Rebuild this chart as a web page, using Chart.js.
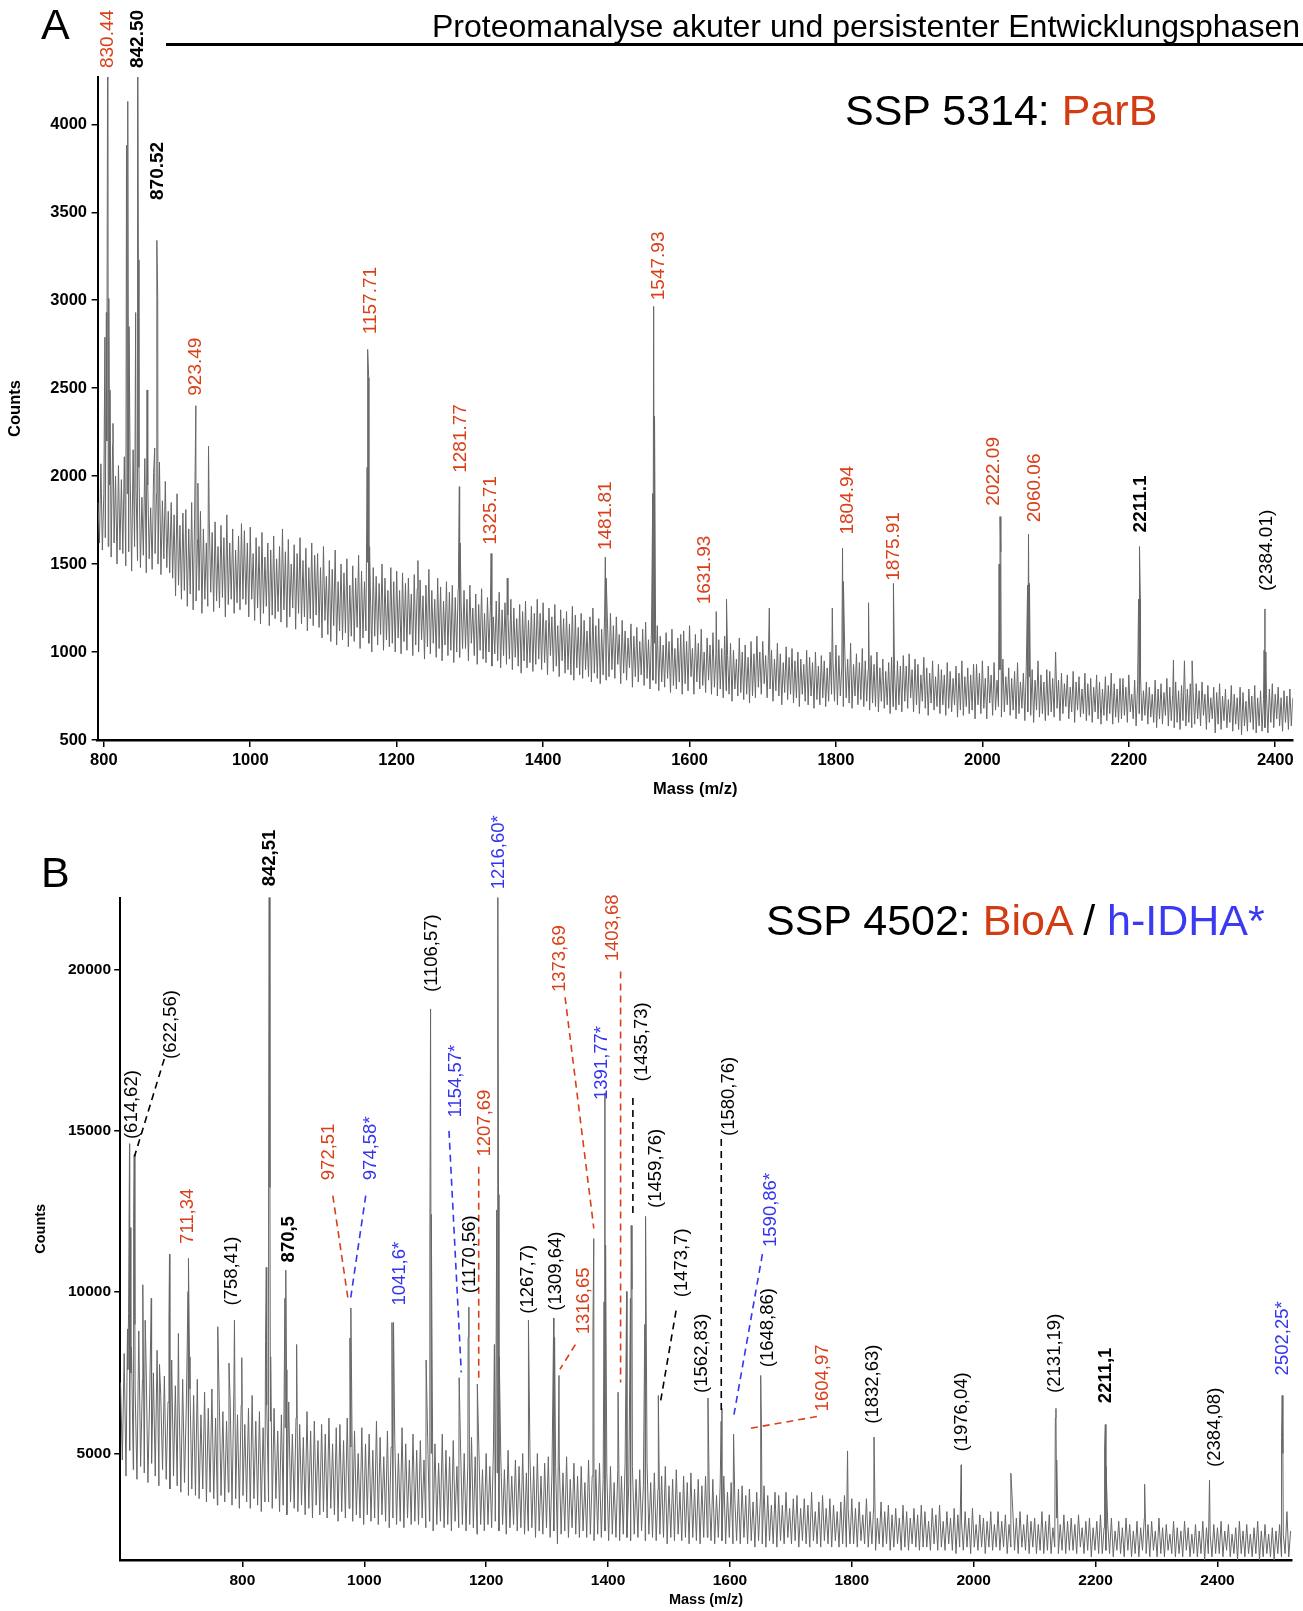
<!DOCTYPE html>
<html><head><meta charset="utf-8">
<script src="https://cdn.jsdelivr.net/npm/chart.js@4.4.1/dist/chart.umd.min.js"></script>
<style>
html,body{margin:0;padding:0;background:#fff;}
body{width:1303px;height:1611px;position:relative;overflow:hidden;font-family:"Liberation Sans",Arial,sans-serif;color:#000;}
.t{position:absolute;white-space:nowrap;line-height:1;}
canvas{position:absolute;left:0;}
</style></head><body>
<canvas id="cA" width="1303" height="805" style="top:0;width:1303px;height:805px"></canvas>
<canvas id="cB" width="1303" height="806" style="top:805px;width:1303px;height:806px"></canvas>
<div class="t" style="left:41px;top:2.6px;font-size:43px">A</div>
<div class="t" style="left:41px;top:850.6px;font-size:43px">B</div>
<div class="t" style="right:3px;top:9.9px;font-size:32px">Proteomanalyse akuter und persistenter Entwicklungsphasen</div>
<div style="position:absolute;left:166px;top:43px;width:1137px;height:3px;background:#000"></div>
<div class="t" style="left:845px;top:88.6px;font-size:43px">SSP 5314: <span style="color:#d33c12">ParB</span></div>
<div class="t" style="left:766px;top:898.6px;font-size:43px">SSP 4502: <span style="color:#d33c12">BioA</span> / <span style="color:#3a3af2">h-IDHA*</span></div>
<script>
// ---------- Panel A (SSP 5314) ----------
const massA_start = 792, massA_step = 2;
const noiseA = [
1850,1620,2070,1580,1900,1650,2200,1600,1950,1540,2180,1620,2000,1500,2060,1580,1980,1560,2110,1490,1900,1570,2000,1460,2150,1600,1930,1520,2050,1480,1880,1550,2100,1450,1950,1530,1820,1470,2020,1560,1900,1500,2080,1440,1860,1530,1970,1480,1800,1450,
1850,1420,1780,1320,1900,1380,1720,1300,1790,1350,1810,1260,1700,1330,1850,1240,1760,1290,1640,1350,1800,1220,1700,1300,1620,1260,1760,1340,1680,1230,1740,1290,1600,1250,1720,1310,1650,1200,1780,1270,1620,1300,1700,1220,1580,1280,1660,1240,1730,1300,
1690,1270,1620,1200,1710,1300,1560,1180,1650,1250,1600,1160,1680,1220,1540,1260,1620,1150,1580,1210,1660,1190,1530,1230,1600,1170,1700,1240,1570,1140,1640,1200,1500,1250,1610,1130,1560,1220,1650,1160,1520,1200,1590,1120,1480,1190,1620,1150,1550,1210,
1560,1140,1480,1080,1600,1180,1430,1100,1520,1060,1470,1150,1580,1040,1400,1120,1500,1070,1450,1110,1530,1030,1380,1090,1490,1060,1420,1140,1550,1020,1460,1080,1400,1120,1510,1050,1360,1000,1480,1090,1430,1040,1390,1100,1500,1010,1420,1070,1350,1030,
1480,1050,1400,1000,1460,1080,1350,990,1450,1060,1390,1010,1420,1100,1330,980,1440,1040,1360,1000,1410,1070,1320,960,1380,1030,1470,990,1350,1050,1300,970,1420,1020,1370,950,1290,1040,1400,980,1340,1010,1380,940,1310,1000,1360,970,1280,1020,
1350,1020,1300,950,1380,1050,1250,980,1330,930,1270,1010,1360,960,1220,940,1310,1000,1260,920,1200,990,1290,950,1340,910,1240,980,1280,930,1210,960,1300,900,1250,970,1190,920,1270,880,1230,950,1290,910,1180,940,1260,890,1220,930,
1300,960,1220,900,1280,940,1180,870,1250,980,1200,890,1270,920,1150,860,1240,950,1190,880,1230,900,1160,870,1260,840,1210,910,1140,870,1220,850,1180,900,1120,860,1200,830,1250,880,1150,850,1190,820,1130,870,1210,840,1160,860,
1220,900,1150,850,1200,930,1100,820,1180,880,1120,840,1080,910,1160,800,1090,860,1140,830,1060,870,1130,810,1170,850,1070,790,1120,840,1050,820,1150,780,1090,830,1040,800,1110,850,1060,770,1130,810,1020,790,1080,830,1100,760,
1120,820,1060,780,1150,860,1020,760,1100,830,1050,790,1130,810,1000,770,1080,840,1040,760,1110,800,990,750,1070,790,1020,740,1090,780,980,760,1050,720,1010,790,960,750,1080,770,1000,730,1040,760,970,710,1060,750,990,740,
1090,800,1000,760,1060,820,980,740,1040,790,1010,720,960,780,1050,750,990,700,940,770,1030,730,970,760,1020,710,950,740,1000,690,960,760,930,720,1010,700,970,750,940,680,1000,730,920,700,980,740,950,690,910,720,
1000,760,950,720,1040,700,980,750,920,690,1010,740,960,710,1050,680,930,750,990,700,940,730,1020,690,950,720,900,670,980,710,930,690,1000,660,910,720,960,680,890,700,940,650,970,690,900,670,950,700,920,660,
980,720,920,680,990,740,900,660,960,700,930,650,870,720,970,680,910,640,880,710,950,670,860,690,930,650,900,700,870,640,940,680,890,660,850,700,920,630,880,670,950,640,860,690,910,650,870,670,930,620,
930,700,880,650,950,680,850,620,920,710,870,640,940,670,840,690,900,630,960,660,860,700,910,640,850,670,890,620,940,650,830,680,880,610,920,660,860,640,900,600,840,670,950,630,870,650,830,610,900,640,
890,660,850,630,1000,680,840,610,880,650,820,690,870,620,800,660,890,600,830,670,860,630,790,650,880,610,820,640,850,600,800,660,870,620,830,590,790,640,860,610,810,650,880,590,820,630,790,600,850,620,
850,640,800,600,870,660,760,620,840,580,810,650,860,610,780,640,830,590,800,630,760,600,840,570,790,620,820,590,770,640,850,580,800,610,760,570,830,600,780,560,810,610,950,580,790,600,820,570,770,590,
820,620,780,580,830,640,760,560,810,600,740,620,800,540,770,590,820,560,750,610,790,570,730,600,810,550,760,590,740,560,800,530,770,580,720,550,790,600,750,560,810,540,740,580,780,550,730,570,760,540,
790,600,820,570,760,620,800,580,740,550,780,600,750,560,790,580,740
];
const peaksA = [
[801.5,2790],[803.5,2930],[805.6,5200],[806.8,3010],[808.5,2490],[812.5,2300],
[831,3880],[832.7,4130],[834.5,2850],[843.5,2930],[846.1,5200],[847.2,3230],
[859,2490],[869.5,2160],[872.4,3340],[873.6,3020],
[925.7,2400],[928.5,1960],[943,2170],
[1159.6,2050],[1160.7,2720],[1161.8,2560],[1163,1600],
[1229,1520],[1284.5,1500],[1285.6,1940],[1286.7,1620],
[1329,1560],[1351,1420],[1485,1540],[1486.2,1420],
[1549.8,1900],[1551,2965],[1552.2,2340],
[1636.5,1230],[1650.5,1300],[1709,1250],
[1795,1250],[1809,1590],[1810.2,1400],[1844.5,1280],[1878.5,1390],
[2022.8,1500],[2024.1,1770],[2025.2,1570],
[2061.8,1380],[2063,1670],[2064.3,1390],
[2213.4,1300],[2214.6,1600],[2215.8,1300],
[2261,955],[2286.5,950],
[2384.8,1010],[2385.9,1245],[2387.2,1000]
];
const xTicksA = [800,1000,1200,1400,1600,1800,2000,2200,2400];
const yTicksA = [500,1000,1500,2000,2500,3000,3500,4000];
const labelTextA = ['830.44','842.50','870.52','923.49','1157.71','1281.77','1325.71','1481.81','1547.93','1631.93','1804.94','1875.91','2022.09','2060.06','2211.1','(2384.01)'];
const labelMzA = [805.6,846.3,873,924.9,1164.5,1287,1329,1485,1558,1621,1816,1879,2015,2071.6,2217,2389];
const labelCountsA = [4320,4320,3570,2457,2807,2019,1610,1580,3000,1271,1668,1405,1832,1738,1680,1347];
const labelKindA = ['r','kb','kb','r','r','r','r','r','r','r','r','r','r','r','kb','k'];

// ---------- Panel B (SSP 4502) ----------
const massB_start = 600, massB_step = 3;
const noiseB = [
7200,4800,8100,4300,7600,5100,8300,4500,7000,4200,8800,4600,7300,4400,7800,4100,6900,4700,7500,4300,8200,4000,6800,4500,7400,4200,6600,3900,7900,4300,7100,4000,6700,3800,7300,4100,6500,3700,7000,3900,
6800,3700,7300,3600,6200,3900,6900,3500,6400,3800,7000,3600,6100,3400,6700,3700,6300,3500,6000,3800,6600,3400,6900,3600,6200,3300,6500,3700,5900,3500,6400,3300,6800,3600,6000,3400,6300,3200,5800,3500,
6500,3500,6000,3300,6400,3600,5700,3200,6200,3400,5800,3100,6600,3500,5600,3300,6100,3200,5900,3400,5500,3100,6300,3300,5700,3000,6000,3400,5400,3100,5900,3200,5600,3000,6100,3300,5300,3100,5800,2900,
5900,3200,5400,3000,6100,3300,5200,2900,5700,3100,5000,3000,5800,2800,5300,3100,5600,2900,5100,3000,6000,2800,5500,3100,4900,2900,5700,2700,5200,3000,5500,2800,5000,2900,5800,2700,5300,3000,4800,2800,
5600,2900,5100,2800,5400,3000,4800,2700,5500,2900,5000,2600,5300,2800,4700,2900,5600,2700,5100,2800,4900,2600,5400,2900,4600,2700,5200,2800,5000,2600,4700,2800,5500,2700,4900,2500,5200,2800,4500,2600,
5000,2800,4600,2700,5200,2900,4400,2600,4900,2800,4500,2500,5100,2700,4300,2800,4800,2600,4600,2700,5000,2500,4400,2600,4800,2700,4600,2400,5000,2600,4300,2500,4700,2700,4900,2400,4400,2600,4600,2200,
4800,2500,4400,2600,4900,2400,4200,2700,4700,2500,4300,2400,4600,2600,4100,2400,4800,2500,4300,2300,4500,2500,4700,2400,4200,2600,4400,2300,4600,2500,4100,2400,4500,2300,4300,2500,4700,2400,4000,2300,
4600,2500,4200,2400,4500,2600,4000,2300,4700,2500,4100,2400,4400,2300,3900,2500,4300,2400,4600,2200,4000,2400,4200,2300,4500,2500,3800,2300,4300,2400,4100,2200,4400,2400,3900,2300,4200,2200,4000,2400,
4300,2400,3900,2300,4200,2200,3700,2400,4000,2300,4300,2200,3800,2400,4100,2200,3600,2300,3900,2200,4000,2400,3700,2200,3900,2300,3500,2100,3800,2300,3600,2200,4000,2100,3700,2300,3400,2200,3800,2100,
3700,2300,3400,2200,3800,2400,3300,2200,3600,2300,3700,2100,3300,2300,3600,2200,3400,2100,3800,2300,3200,2200,3500,2100,3700,2300,3300,2200,3600,2100,3400,2300,3200,2100,3500,2200,3700,2100,3300,2200,
3600,2200,3300,2100,3500,2300,3100,2200,3600,2100,3200,2200,3400,2000,3000,2200,3500,2100,3200,2200,3400,2000,3100,2100,3300,2200,3000,2000,3400,2100,3200,2000,3000,2200,3300,2100,3100,2000,3400,2100,
3200,2100,2900,2000,3300,2200,3100,2000,3400,2100,2900,2000,3200,2200,3000,2000,3300,1900,3100,2100,2900,2000,3200,2100,3000,1900,3300,2100,2800,2000,3100,2100,3000,1900,2900,2100,3200,2000,2800,2100,
3200,2000,2900,2100,3100,1900,2800,2100,3300,2000,3000,1900,3200,2100,2800,2000,3100,1900,2900,2100,3000,1900,2800,2000,3200,1900,2900,2000,3100,1900,2700,2100,3000,1900,2800,2000,3100,1900,2900,2000,
3000,2000,2800,1900,3100,2100,2700,1900,2900,2000,3000,1800,2700,2000,2900,1900,3100,1900,2700,2000,2800,1900,3000,1800,2600,2000,2900,1900,2700,1800,3000,2000,2800,1800,2600,1900,2900,1800,2700,2000,
3000,1900,2800,1800,2900,2000,2600,1800,3000,1900,2700,1800,2800,2000,2500,1900,2900,1800,2700,1900,2600,1800,2900,2000,2700,1800,2500,1900,2800,1800,2600,1900,2900,1700,2700,1900,2500,1800,2800,1900,
2700,1900,2900,1800,2600,2000,2800,1800,2500,1900,2700,1700,2900,1900,2600,1800,2800,1900,2500,1800,2700,1900,2900,1700,2600,1800,2800,1900,2500,1800,2700,1700,2600,1900,2800,1800,2500,1900,3200,1800,
2600
];
const peaksB = [
[611.5,8860],[613.2,9340],[614.8,14600],[615.8,12000],[617,7500],
[621.5,12280],[622.5,14260],[623.6,9000],
[636.6,10230],[640.5,9130],[650.5,9810],[664,7760],
[679.5,9130],[680.4,11180],[695,8720],
[710.8,10020],[712,11050],[713.2,8000],
[759.6,8930],[778,7800],[787,9130],[799,7970],
[838,8500],[839.2,10770],[843,13240],[844,25000],[845.2,13240],[846.4,8000],
[869.8,9810],[871.2,10680],[872.4,7600],[889,8380],
[976.5,8580],[978,9510],[979.3,7000],
[1045.5,9060],[1048,9060],
[1101.5,7900],[1107.6,11180],[1108.8,18780],[1110,12410],[1111.3,8000],
[1155.7,7350],[1170.4,8600],[1171.6,9540],[1185.5,7150],
[1213.5,8380],[1217.4,12550],[1219,25000],[1220.3,13030],[1221.5,8000],
[1269.4,9130],[1310.8,9200],[1312.3,8600],[1319.5,7420],
[1375.3,9000],[1376.6,11660],[1393.5,9700],[1394.8,16180],[1396,11460],
[1416.5,6900],[1430.5,10020],[1436.8,9800],[1438,12070],[1439.3,10090],
[1460.3,9000],[1461.6,12350],[1462.8,8600],[1482.5,6800],
[1564,6720],[1585.6,6000],[1586.8,6400],[1606,5600],[1650.5,7420],[1651.7,5800],
[1793,5080],[1836.5,5510],[1979.5,4650],[2061,4390],
[2134,6100],[2135,6400],[2136.2,4800],
[2214.8,5200],[2216,5900],[2217.2,4600],[2280.5,4050],[2387,4180],
[2505.2,5500],[2506.2,6800],[2507.4,5000]
];
const xTicksB = [800,1000,1200,1400,1600,1800,2000,2200,2400];
const yTicksB = [5000,10000,15000,20000];
const labelTextB = ['(614,62)','(622,56)','711,34','(758,41)','842,51','870,5','972,51','974,58*','1041,6*','(1106,57)','1154,57*','(1170,56)','1207,69','1216,60*','(1267,7)','(1309,64)','1316,65','1373,69','1391,77*','1403,68','(1435,73)','(1459,76)','(1473,7)','(1562,83)','(1580,76)','1590,86*','(1648,86)','1604,97','(1832,63)','(1976,04)','(2131,19)','2211,1','(2384,08)','2502,25*'];
const labelMzB = [617.9,682,710.6,783.1,845.5,875.9,941.6,1010.8,1058,1110.3,1150.7,1172.7,1198,1221.6,1268.8,1314.3,1359.9,1321.1,1390.2,1408.8,1456,1477.9,1521.7,1553.8,1597.6,1666.8,1661.7,1752.8,1835.4,1980.4,2133.9,2216.5,2395.2,2508.2];
const labelCountsB = [14746,17230,11497,9586,22581,10924,13472,13472,9586,19301,15415,9969,14205,22486,9332,9427,8695,19301,15957,20256,16530,12612,9841,6879,14842,11402,7675,6306,5924,5064,6879,6561,4586,7421];
const labelKindB = ['k','k','r','k','kb','kb','r','b','b','k','b','k','r','b','k','k','r','r','b','r','k','k','k','k','k','b','k','r','k','k','k','kb','k','b'];
// leader lines: [mz from, counts from, mz to, counts to]
const leaderB = [
[671.8,17230,622.9,14205],[948.4,12994,973.7,9746],[1002.4,12994,977.1,9746],
[1139,15001,1159.2,7516],[1187.8,13886,1187.8,7198],[1346.4,8376,1321.1,7612],
[1329.5,19141,1376.7,11975],[1420.6,19937,1420.6,7198],[1440.8,16020,1440.8,12453],
[1511.6,9427,1486.3,6624],[1585.8,14746,1585.8,6242],[1653.3,11179,1606.1,6147],
[1742.7,6147,1628,5764]
];
const leaderKindB = ['k','r','b','b','r','r','r','r','k','k','k','b','r'];

// ---------- styling ----------
const kindStyle = {
  r: {color:'#d9401a', weight:'normal'},
  k: {color:'#000000', weight:'normal'},
  kb:{color:'#000000', weight:'bold'},
  b: {color:'#3535f0', weight:'normal'}
};
const FONT = '"Liberation Sans", Arial, Helvetica, sans-serif';

function buildSeries(start, step, noise, peaks){
  const pts = noise.map((v,i)=>({x:start+i*step, y:v}));
  peaks.forEach(p=>pts.push({x:p[0], y:p[1]}));
  pts.sort((a,b)=>a.x-b.x);
  return pts;
}

function annotPlugin(texts, mzs, counts, kinds, leaders, leaderKinds, fontSize){
  return {
    id:'annot',
    afterDatasetsDraw(chart){
      const {ctx, scales:{x, y}} = chart;
      ctx.save();
      leaders.forEach((l,i)=>{
        ctx.beginPath();
        ctx.setLineDash([7,5]);
        ctx.lineWidth = 1.6;
        ctx.strokeStyle = kindStyle[leaderKinds[i]].color;
        ctx.moveTo(x.getPixelForValue(l[0]), y.getPixelForValue(l[1]));
        ctx.lineTo(x.getPixelForValue(l[2]), y.getPixelForValue(l[3]));
        ctx.stroke();
      });
      ctx.setLineDash([]);
      texts.forEach((t,i)=>{
        const st = kindStyle[kinds[i]];
        ctx.save();
        ctx.translate(x.getPixelForValue(mzs[i]), y.getPixelForValue(counts[i]));
        ctx.rotate(-Math.PI/2);
        ctx.font = st.weight + ' ' + fontSize + 'px ' + FONT;
        ctx.fillStyle = st.color;
        ctx.textAlign = 'left';
        ctx.textBaseline = 'middle';
        ctx.fillText(t, 0, 0);
        ctx.restore();
      });
      ctx.restore();
    }
  };
}

function makeChart(id, cfg){
  return new Chart(document.getElementById(id), {
    type:'line',
    data:{datasets:[{
      data: cfg.series,
      borderColor:'#676767', borderWidth:1,
      pointRadius:0, tension:0, fill:false
    }]},
    options:{
      animation:false, responsive:false, events:[],
      plugins:{legend:{display:false}, tooltip:{enabled:false}},
      layout:{padding:cfg.padding},
      scales:{
        x:{
          type:'linear', min:cfg.xmin, max:cfg.xmax,
          afterBuildTicks:s=>{ s.ticks = cfg.xTicks.map(v=>({value:v})); },
          afterFit:s=>{ s.height = cfg.xHeight; },
          grid:{display:true, drawOnChartArea:false, drawTicks:true, tickLength:7, color:'#000', lineWidth:1.5},
          border:{display:true, color:'#000', width:2.5},
          ticks:{font:{family:FONT, size:cfg.tickSize, weight:'bold'}, color:'#000', maxRotation:0, autoSkip:false, padding:cfg.xTickPad, callback:v=>String(v)},
          title:{display:true, text:'Mass (m/z)', color:'#000', font:{family:FONT, size:cfg.titleSize, weight:'bold'}, padding:{top:0, bottom:cfg.xTitlePad}}
        },
        y:{
          type:'linear', min:cfg.ymin, max:cfg.ymax,
          afterBuildTicks:s=>{ s.ticks = cfg.yTicks.map(v=>({value:v})); },
          afterFit:s=>{ s.width = cfg.yWidth; },
          grid:{display:true, drawOnChartArea:false, drawTicks:true, tickLength:6, color:'#000', lineWidth:1.5},
          border:{display:true, color:'#000', width:2},
          ticks:{font:{family:FONT, size:cfg.tickSize, weight:'bold'}, color:'#000', padding:cfg.yTickPad, callback:v=>String(v)},
          title:{display:true, text:'Counts', color:'#000', font:{family:FONT, size:cfg.titleSize, weight:'bold'}, padding:{top:cfg.yTitlePad, bottom:0}}
        }
      }
    },
    plugins:[cfg.plugin]
  });
}

makeChart('cA', {
  series: buildSeries(massA_start, massA_step, noiseA, peaksA),
  padding:{top:77, right:10.2, left:0, bottom:0},
  xmin:791.5, xmax:2424, ymin:500, ymax:4269,
  xTicks:xTicksA, yTicks:yTicksA,
  xHeight:65, yWidth:97.6,
  tickSize:16.5, titleSize:16.5,
  xTickPad:4, yTickPad:4.6, xTitlePad:6, yTitlePad:5.5,
  plugin: annotPlugin(labelTextA, labelMzA, labelCountsA, labelKindA, [], [], 19)
});

makeChart('cB', {
  series: buildSeries(massB_start, massB_step, noiseB, peaksB),
  padding:{top:92.6, right:11.2, left:0, bottom:0},
  xmin:599.5, xmax:2522, ymin:1700, ymax:22230,
  xTicks:xTicksB, yTicks:yTicksB,
  xHeight:51, yWidth:120.2,
  tickSize:15.5, titleSize:14.5,
  xTickPad:4, yTickPad:3.2, xTitlePad:2.3, yTitlePad:32.4,
  plugin: annotPlugin(labelTextB, labelMzB, labelCountsB, labelKindB, leaderB, leaderKindB, 18.5)
});
</script>
</body></html>
